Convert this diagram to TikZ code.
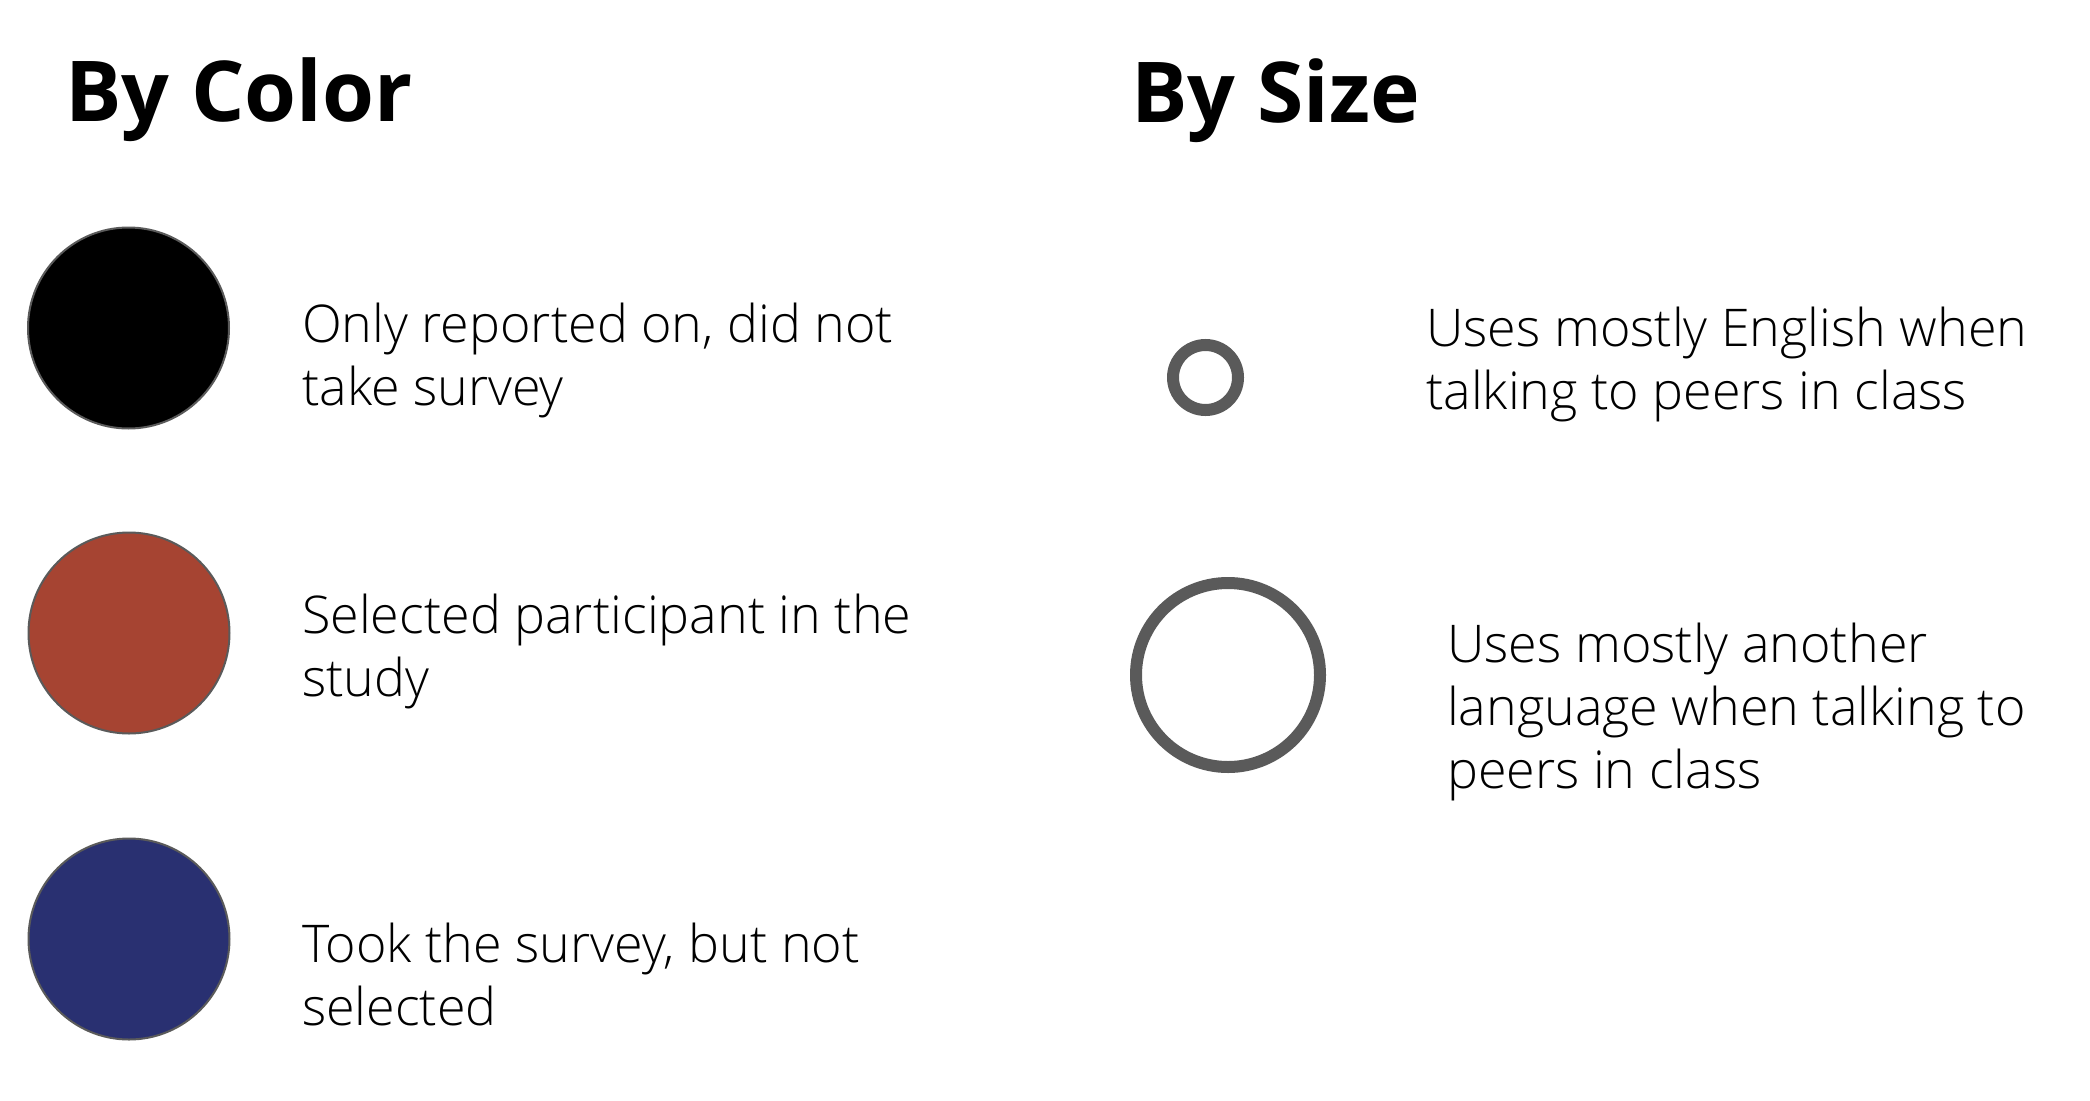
\documentclass[tikz,border=0pt]{standalone}
\usepackage{fontspec}
\setmainfont{Open Sans}[UprightFont=* Light, BoldFont=* Bold]
\usepackage{tikz}
\usetikzlibrary{positioning}
\definecolor{tijolo}{HTML}{A64432}
\definecolor{marinho}{HTML}{293071}
\definecolor{contorno}{HTML}{5A5A5A}
\tikzset{
  titulo/.style={anchor=base west, inner sep=0pt, font=\fontsize{84}{100}\selectfont\bfseries},
  legenda/.style={anchor=base west, inner sep=0pt, align=left, font=\fontsize{52}{63}\selectfont},
  bola/.style={circle, draw=contorno, line width=2pt, inner sep=0pt, minimum size=201pt, fill=#1},
  anel/.style={circle, draw=contorno, line width=12pt, inner sep=0pt, minimum size=#1},
}

\begin{document}
\begin{tikzpicture}[x=1pt, y=-1pt]
  \fill[white] (0,0) rectangle (2090,1100);
  \useasboundingbox (0,0) rectangle (2090,1100);
  % por cor (legendas pela linha de base da ultima linha)
  \node[titulo] (cor) at (65,121) {By Color};
  \node[bola=black] (preto) at (128.5,328) {};
  \node[bola=tijolo] (verm) at (129,633) {};
  \node[bola=marinho] (azul) at (129,939) {};
  \node[legenda] (lpreto) at (302,405) {Only reported on, did not\\take survey};
  \node[legenda] (lverm) at (302,696) {Selected participant in the\\study};
  \node[legenda] (lazul) at (302,1025) {Took the survey, but not\\selected};
  % por tamanho
  \node[titulo] (tam) at (1131,122) {By Size};
  \node[anel=65pt] (peq) at (1205.5,377.5) {};
  \node[anel=184pt] (gde) at (1228,675) {};
  \node[legenda] (lpeq) at (1426,409) {Uses mostly English when\\talking to peers in class};
  \node[legenda] (lgde) at (1447,788) {Uses mostly another\\language when talking to\\peers in class};
\end{tikzpicture}
\end{document}
